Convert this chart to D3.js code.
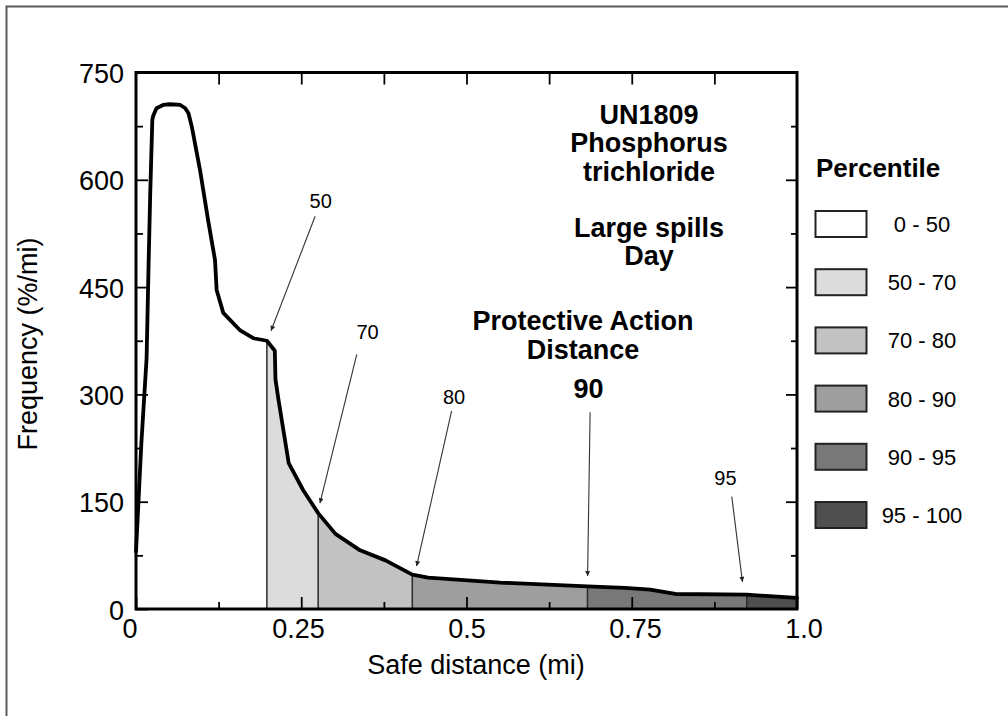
<!DOCTYPE html>
<html>
<head>
<meta charset="utf-8">
<script src="https://cdn.jsdelivr.net/npm/d3@7"></script>
<style>
  html, body { margin: 0; padding: 0; background: #fff; }
  svg { display: block; font-family: "Liberation Sans", Arial, Helvetica, sans-serif; }
</style>
</head>
<body>
<svg id="chart" width="1008" height="716"></svg>
<script>
// ---------------- data ----------------
const distance = [0, 0.008, 0.016, 0.019, 0.0215, 0.0247, 0.0262, 0.031, 0.041, 0.0514, 0.067, 0.0745, 0.0794, 0.0845,
  0.0968, 0.109, 0.1195, 0.122, 0.132, 0.157, 0.1775, 0.198, 0.21, 0.211, 0.2155, 0.231, 0.253, 0.2756, 0.3017,
  0.339, 0.3775, 0.418, 0.442, 0.551, 0.683, 0.740, 0.778, 0.816, 0.924, 1.0];
const frequency = [80, 230, 350, 480, 580, 684, 690, 700, 704.6, 705.6, 704.6, 700, 693, 674,
  614, 544, 488, 446, 414, 390, 378.5, 375, 361, 321, 293, 204, 166, 134, 105,
  82, 68, 48, 44, 37, 31.5, 29.5, 27, 21, 20, 15.5];

const percentileBounds = [0, 0.198, 0.2756, 0.418, 0.683, 0.924, 1.0];
const bandLabels = ["0 - 50", "50 - 70", "70 - 80", "80 - 90", "90 - 95", "95 - 100"];
const bandFills = ["#ffffff", "#dcdcdc", "#c2c2c2", "#9e9e9e", "#787878", "#4f4f4f"];

const xMajorTicks = [0, 0.25, 0.5, 0.75, 1.0];
const xTickLabels = ["0", "0.25", "0.5", "0.75", "1.0"];
const xMinorTicks = [0.125, 0.375, 0.625, 0.875];
const yMajorTicks = [0, 150, 300, 450, 600, 750];
const yMinorTicks = [75, 225, 375, 525, 675];

const titleLines = ["UN1809", "Phosphorus", "trichloride"];
const caseLines = ["Large spills", "Day"];
const padLines = ["Protective Action", "Distance"];

// annotation arrows: label, label anchor (data units), arrow start and end (data units)
const annotations = [
  { label: "50", lx: 0.2794, ly: 560, x1: 0.271, y1: 549, x2: 0.2043, y2: 389, bold: false },
  { label: "70", lx: 0.3503, ly: 377, x1: 0.334, y1: 356, x2: 0.2783, y2: 148, bold: false },
  { label: "80", lx: 0.4811, ly: 286, x1: 0.4775, y1: 277, x2: 0.4245, y2: 60, bold: false },
  { label: "90", lx: 0.6846, ly: 295, x1: 0.687, y1: 275, x2: 0.6832, y2: 46, bold: true },
  { label: "95", lx: 0.8917, ly: 173, x1: 0.9013, y1: 157, x2: 0.9175, y2: 38, bold: false }
];

// ---------------- layout ----------------
const svg = d3.select("#chart");
const plot = { left: 136, right: 797, top: 72.5, bottom: 609 };

const x = d3.scaleLinear().domain([0, 1]).range([plot.left, plot.right]);
const y = d3.scaleLinear().domain([0, 750]).range([plot.bottom, plot.top]);

const pts = distance.map((d, i) => [d, frequency[i]]);

// outer border (top + left)
svg.append("path")
  .attr("d", "M6.5,716 L6.5,6.5 L1008,6.5")
  .attr("fill", "none").attr("stroke", "#5a5a5a").attr("stroke-width", 2);

const defs = svg.append("defs");
const areaGen = d3.area().x(d => x(d[0])).y0(y(0)).y1(d => y(d[1]));
const lineGen = d3.line().x(d => x(d[0])).y(d => y(d[1]));

// clip path of area under the curve
defs.append("clipPath").attr("id", "underCurve")
  .append("path").attr("d", areaGen(pts));

// band clip rects and filled areas
bandFills.forEach((fill, i) => {
  const lo = percentileBounds[i], hi = percentileBounds[i + 1];
  defs.append("clipPath").attr("id", "band" + i)
    .append("rect")
    .attr("x", x(lo)).attr("y", plot.top)
    .attr("width", x(hi) - x(lo)).attr("height", plot.bottom - plot.top);
  svg.append("path")
    .attr("d", areaGen(pts))
    .attr("fill", fill)
    .attr("clip-path", `url(#band${i})`);
});

// percentile boundary lines (clipped to the area under the curve)
svg.append("g").attr("clip-path", "url(#underCurve)")
  .selectAll("line").data(percentileBounds.slice(1, -1)).join("line")
  .attr("x1", d => x(d)).attr("x2", d => x(d))
  .attr("y1", y(0)).attr("y2", plot.top)
  .attr("stroke", "#2a2a2a").attr("stroke-width", 1.5);

// curve
svg.append("path")
  .attr("d", lineGen(pts))
  .attr("fill", "none").attr("stroke", "#000")
  .attr("stroke-width", 3.8).attr("stroke-linejoin", "round").attr("stroke-linecap", "round");

// ---------------- axes (inward ticks) ----------------
function styleAxis(g) {
  g.select(".domain").remove();
  g.selectAll(".tick line").attr("stroke", "#000").attr("stroke-width", 1.8);
  g.selectAll("text").attr("font-size", 27).attr("fill", "#000")
    .attr("font-family", '"Liberation Sans", Arial, Helvetica, sans-serif');
}

// bottom major with labels
svg.append("g").attr("transform", `translate(0,${plot.bottom})`)
  .call(d3.axisBottom(x).tickValues(xMajorTicks).tickSize(-12).tickPadding(0)
    .tickFormat((d, i) => xTickLabels[i]))
  .call(styleAxis)
  .call(g => g.selectAll("text")
    .attr("dy", null).attr("y", 29)
    .attr("dx", d => (d - 0.5) * 13));
// bottom minor
svg.append("g").attr("transform", `translate(0,${plot.bottom})`)
  .call(d3.axisBottom(x).tickValues(xMinorTicks).tickSize(-7).tickFormat(""))
  .call(styleAxis);
// top ticks
svg.append("g").attr("transform", `translate(0,${plot.top})`)
  .call(d3.axisTop(x).tickValues(xMinorTicks.concat(xMajorTicks.slice(1, -1))).tickSize(-12).tickFormat(""))
  .call(styleAxis);

// left major with labels
svg.append("g").attr("transform", `translate(${plot.left},0)`)
  .call(d3.axisLeft(y).tickValues(yMajorTicks).tickSize(-12).tickPadding(12))
  .call(styleAxis)
  .call(g => g.selectAll("text").attr("dy", "0.37em"));
// left minor
svg.append("g").attr("transform", `translate(${plot.left},0)`)
  .call(d3.axisLeft(y).tickValues(yMinorTicks).tickSize(-7).tickFormat(""))
  .call(styleAxis);
// right ticks
svg.append("g").attr("transform", `translate(${plot.right},0)`)
  .call(d3.axisRight(y).tickValues(yMajorTicks.slice(1, -1)).tickSize(-11).tickFormat(""))
  .call(styleAxis);
svg.append("g").attr("transform", `translate(${plot.right},0)`)
  .call(d3.axisRight(y).tickValues(yMinorTicks).tickSize(-6).tickFormat(""))
  .call(styleAxis);

// frame
svg.append("rect")
  .attr("x", plot.left).attr("y", plot.top)
  .attr("width", plot.right - plot.left).attr("height", plot.bottom - plot.top)
  .attr("fill", "none").attr("stroke", "#000").attr("stroke-width", 3);

// axis titles
svg.append("text")
  .attr("x", 476).attr("y", 674)
  .attr("text-anchor", "middle").attr("font-size", 27)
  .text("Safe distance (mi)");
svg.append("text")
  .attr("transform", "translate(37,344) rotate(-90)")
  .attr("text-anchor", "middle").attr("font-size", 27)
  .text("Frequency (%/mi)");

// ---------------- annotations ----------------
defs.append("marker").attr("id", "arrowHead")
  .attr("viewBox", "0 0 10 10").attr("refX", 10).attr("refY", 5)
  .attr("markerUnits", "userSpaceOnUse")
  .attr("markerWidth", 9).attr("markerHeight", 5).attr("orient", "auto")
  .append("path").attr("d", "M0,0 L10,5 L0,10 Z").attr("fill", "#222");

const ann = svg.append("g");
ann.selectAll("line").data(annotations).join("line")
  .attr("x1", d => x(d.x1)).attr("y1", d => y(d.y1))
  .attr("x2", d => x(d.x2)).attr("y2", d => y(d.y2))
  .attr("stroke", "#333").attr("stroke-width", 1.1)
  .attr("marker-end", "url(#arrowHead)");
ann.selectAll("text").data(annotations).join("text")
  .attr("x", d => x(d.lx)).attr("y", d => y(d.ly))
  .attr("text-anchor", "middle")
  .attr("font-size", d => d.bold ? 27 : 20)
  .attr("font-weight", d => d.bold ? "bold" : "normal")
  .text(d => d.label);

// title blocks (multi-line text with tspans)
function block(lines, cx, y0, lh) {
  const t = svg.append("text")
    .attr("font-weight", "bold").attr("font-size", 27).attr("text-anchor", "middle")
    .attr("x", cx).attr("y", y0);
  t.selectAll("tspan").data(lines).join("tspan")
    .attr("x", cx).attr("dy", (d, i) => i === 0 ? 0 : lh)
    .text(d => d);
}
block(titleLines, 649, 124, 28.4);
block(caseLines, 649, 237, 28.4);
block(padLines, 583, 330, 28.5);

// ---------------- legend ----------------
const legend = svg.append("g");
legend.append("text")
  .attr("x", 816).attr("y", 177)
  .attr("font-size", 26).attr("font-weight", "bold")
  .text("Percentile");
const items = legend.selectAll(".item").data(bandLabels).join("g").attr("class", "item")
  .attr("transform", (d, i) => `translate(0,${211 + i * 58.2})`);
items.append("rect")
  .attr("x", 815.5).attr("y", 0).attr("width", 51).attr("height", 26)
  .attr("fill", (d, i) => bandFills[i]).attr("stroke", "#222").attr("stroke-width", 2);
items.append("text")
  .attr("x", 922).attr("y", 21)
  .attr("text-anchor", "middle").attr("font-size", 22)
  .text(d => d);
</script>
</body>
</html>
